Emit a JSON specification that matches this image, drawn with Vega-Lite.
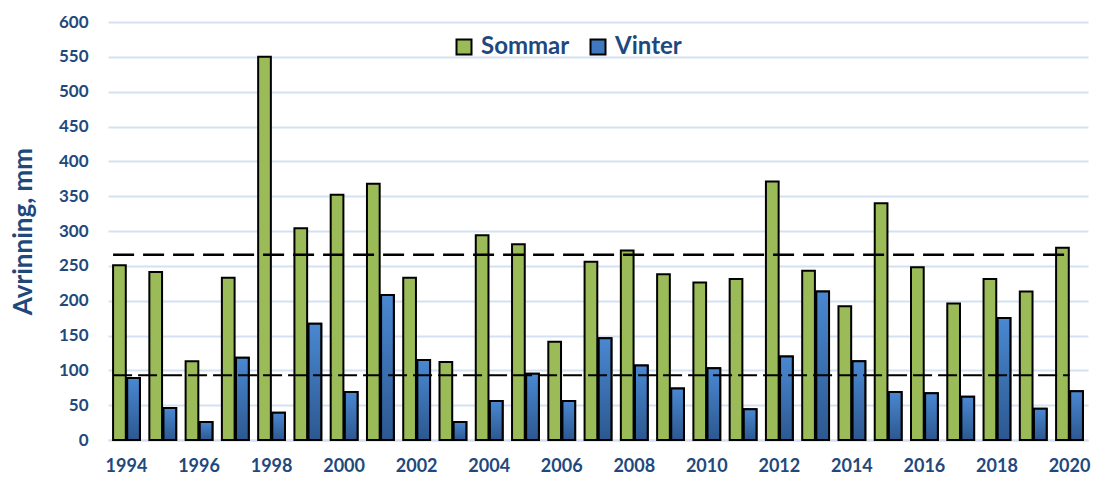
{
  "$schema": "https://vega.github.io/schema/vega-lite/v6.json",
  "width": 980,
  "height": 418,
  "autosize": {"type": "none"},
  "padding": {"left": 108, "top": 22, "right": 11, "bottom": 37},
  "background": "white",
  "config": {
    "font": "Lato",
    "view": {"stroke": null},
    "axis": {"labelFont": "Lato", "titleFont": "Lato"}
  },
  "datasets": {
    "bars": [
      {"year": 1994, "season": "Sommar", "value": 251}, {"year": 1994, "season": "Vinter", "value": 89},
      {"year": 1995, "season": "Sommar", "value": 241}, {"year": 1995, "season": "Vinter", "value": 46},
      {"year": 1996, "season": "Sommar", "value": 113}, {"year": 1996, "season": "Vinter", "value": 26},
      {"year": 1997, "season": "Sommar", "value": 233}, {"year": 1997, "season": "Vinter", "value": 118},
      {"year": 1998, "season": "Sommar", "value": 550}, {"year": 1998, "season": "Vinter", "value": 39},
      {"year": 1999, "season": "Sommar", "value": 304}, {"year": 1999, "season": "Vinter", "value": 167},
      {"year": 2000, "season": "Sommar", "value": 352}, {"year": 2000, "season": "Vinter", "value": 69},
      {"year": 2001, "season": "Sommar", "value": 368}, {"year": 2001, "season": "Vinter", "value": 208},
      {"year": 2002, "season": "Sommar", "value": 233}, {"year": 2002, "season": "Vinter", "value": 115},
      {"year": 2003, "season": "Sommar", "value": 112}, {"year": 2003, "season": "Vinter", "value": 26},
      {"year": 2004, "season": "Sommar", "value": 294}, {"year": 2004, "season": "Vinter", "value": 56},
      {"year": 2005, "season": "Sommar", "value": 281}, {"year": 2005, "season": "Vinter", "value": 95},
      {"year": 2006, "season": "Sommar", "value": 141}, {"year": 2006, "season": "Vinter", "value": 56},
      {"year": 2007, "season": "Sommar", "value": 256}, {"year": 2007, "season": "Vinter", "value": 146},
      {"year": 2008, "season": "Sommar", "value": 272}, {"year": 2008, "season": "Vinter", "value": 107},
      {"year": 2009, "season": "Sommar", "value": 238}, {"year": 2009, "season": "Vinter", "value": 74},
      {"year": 2010, "season": "Sommar", "value": 226}, {"year": 2010, "season": "Vinter", "value": 103},
      {"year": 2011, "season": "Sommar", "value": 231}, {"year": 2011, "season": "Vinter", "value": 44},
      {"year": 2012, "season": "Sommar", "value": 371}, {"year": 2012, "season": "Vinter", "value": 120},
      {"year": 2013, "season": "Sommar", "value": 243}, {"year": 2013, "season": "Vinter", "value": 213},
      {"year": 2014, "season": "Sommar", "value": 192}, {"year": 2014, "season": "Vinter", "value": 113},
      {"year": 2015, "season": "Sommar", "value": 340}, {"year": 2015, "season": "Vinter", "value": 69},
      {"year": 2016, "season": "Sommar", "value": 248}, {"year": 2016, "season": "Vinter", "value": 67},
      {"year": 2017, "season": "Sommar", "value": 196}, {"year": 2017, "season": "Vinter", "value": 62},
      {"year": 2018, "season": "Sommar", "value": 231}, {"year": 2018, "season": "Vinter", "value": 175},
      {"year": 2019, "season": "Sommar", "value": 213}, {"year": 2019, "season": "Vinter", "value": 45},
      {"year": 2020, "season": "Sommar", "value": 276}, {"year": 2020, "season": "Vinter", "value": 70}
    ],
    "refs": [
      {"line": "Sommar", "value": 266},
      {"line": "Vinter", "value": 93}
    ]
  },
  "encoding": {
    "y": {
      "field": "value", "type": "quantitative",
      "scale": {"domain": [0, 600]},
      "axis": {
        "title": "Avrinning, mm",
        "titleFontSize": 26, "titleFontWeight": "bold", "titleColor": "#1F497D", "titlePadding": 22,
        "values": [0, 50, 100, 150, 200, 250, 300, 350, 400, 450, 500, 550, 600],
        "labelOverlap": false,
        "labelFontSize": 17, "labelFontWeight": "bold", "labelColor": "#1F497D", "labelPadding": 20,
        "ticks": false, "tickSize": 0, "domain": false,
        "grid": true, "gridColor": "#D4E1F2", "gridWidth": 2
      }
    }
  },
  "layer": [
    {
      "data": {"name": "bars"},
      "mark": {"type": "bar", "stroke": "black", "strokeWidth": 2},
      "encoding": {
        "x": {
          "field": "year", "type": "ordinal",
          "scale": {"paddingInner": 0.26, "paddingOuter": 0.14},
          "axis": {
            "title": null,
            "values": [1994, 1996, 1998, 2000, 2002, 2004, 2006, 2008, 2010, 2012, 2014, 2016, 2018, 2020],
            "labelAngle": 0, "labelFontSize": 18, "labelFontWeight": "bold", "labelColor": "#1F497D",
            "labelPadding": 17, "ticks": false, "tickSize": 0, "domain": true, "domainColor": "#D4E1F2", "domainWidth": 2, "grid": false
          }
        },
        "xOffset": {"field": "season", "type": "nominal", "scale": {"domain": ["Sommar", "Vinter"], "paddingInner": 0.1}},
        "color": {
          "field": "season", "type": "nominal",
          "scale": {"domain": ["Sommar", "Vinter"], "range": ["#9BBB59", "#3F78BE"]},
          "legend": {
            "title": null, "orient": "none", "direction": "horizontal",
            "legendX": 344, "legendY": 13, "padding": 0,
            "symbolType": "square", "symbolSize": 225, "symbolStrokeColor": "black", "symbolStrokeWidth": 2, "symbolOpacity": 1,
            "labelFontSize": 24, "labelFontWeight": "bold", "labelColor": "#1F497D", "labelOffset": 5, "columnPadding": 16
          }
        }
      }
    },
    {
      "data": {"name": "bars"},
      "transform": [{"filter": "datum.season === 'Vinter'"}],
      "mark": {
        "type": "bar", "stroke": "black", "strokeWidth": 2,
        "fill": {"gradient": "linear", "x1": 0, "y1": 0, "x2": 0, "y2": 1,
          "stops": [{"offset": 0, "color": "#4A88D2"}, {"offset": 1, "color": "#2C5890"}]}
      },
      "encoding": {
        "x": {"field": "year", "type": "ordinal"},
        "xOffset": {"field": "season", "type": "nominal"}
      }
    },
    {
      "data": {"name": "refs"},
      "transform": [{"filter": "datum.line === 'Sommar'"}],
      "mark": {"type": "rule", "color": "black", "strokeWidth": 2.4, "strokeDash": [21, 9]},
      "encoding": {
        "x": {"datum": 1994, "type": "ordinal", "bandPosition": 0},
        "x2": {"datum": 2020}
      }
    },
    {
      "data": {"name": "refs"},
      "transform": [{"filter": "datum.line === 'Vinter'"}],
      "mark": {"type": "rule", "color": "black", "strokeWidth": 2, "strokeDash": [19, 6]},
      "encoding": {
        "x": {"datum": 1994, "type": "ordinal", "bandPosition": 0},
        "x2": {"datum": 2020}
      }
    }
  ]
}
